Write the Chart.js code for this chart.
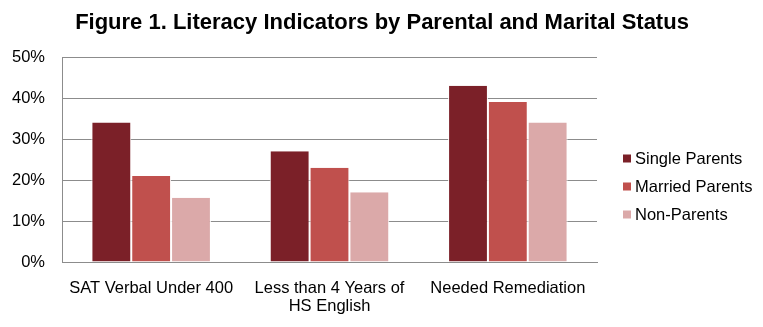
<!DOCTYPE html>
<html>
<head>
<meta charset="utf-8">
<script src="https://cdn.jsdelivr.net/npm/chart.js@4"></script>
<style>
  html, body { margin: 0; padding: 0; background: #fff; }
  #wrap { width: 763px; height: 327px; }
</style>
</head>
<body>
<div id="wrap"><canvas id="literacyChart" width="763" height="327"></canvas></div>
<script>
var categories = ["SAT Verbal Under 400", ["Less than 4 Years of", "HS English"], "Needed Remediation"];
var seriesNames = ["Single Parents", "Married Parents", "Non-Parents"];
var singleParents = [34, 27, 43];
var marriedParents = [21, 23, 39];
var nonParents = [15.7, 17, 34];
var seriesColors = ["#7B2028", "#C0504D", "#DBA9A9"];
var chartTitle = "Figure 1. Literacy Indicators by Parental and Marital Status";

var FONT = "'Liberation Sans', Arial, sans-serif";

// title and legend drawn by hand so they sit where the original has them
var titleAndLegend = {
  id: "titleAndLegend",
  afterDraw: function (chart) {
    var ctx = chart.ctx;
    ctx.save();
    ctx.fillStyle = "#000";
    ctx.font = "bold 22px " + FONT;
    ctx.textAlign = "center";
    ctx.textBaseline = "middle";
    ctx.fillText(chartTitle, 382, 23);

    ctx.textAlign = "left";
    ctx.font = "16.5px " + FONT;
    var x = 623;
    var y = 158;
    chart.data.datasets.forEach(function (ds, i) {
      var yy = y + i * 28;
      ctx.fillStyle = ds.backgroundColor;
      ctx.fillRect(x, yy - 3.5, 8, 8);
      ctx.fillStyle = "#000";
      ctx.fillText(ds.label, x + 12, yy + 1);
    });
    ctx.restore();
  },
};

var data = {
  labels: categories,
  datasets: [singleParents, marriedParents, nonParents].map(function (values, i) {
    return {
      label: seriesNames[i],
      data: values,
      backgroundColor: seriesColors[i],
      borderColor: "#ffffff",
      borderWidth: { left: 1, right: 1, top: 0, bottom: 0 },
      barPercentage: 1,
      categoryPercentage: 0.67,
    };
  }),
};

new Chart(document.getElementById("literacyChart"), {
  type: "bar",
  data: data,
  plugins: [titleAndLegend],
  options: {
    responsive: false,
    animation: false,
    layout: { padding: { left: 0, right: 166, top: 57, bottom: 0 } },
    plugins: {
      legend: { display: false },
      tooltip: { enabled: false },
      title: { display: false },
    },
    scales: {
      x: {
        grid: { display: false, drawTicks: false },
        border: { color: "#8c8c8c", width: 1 },
        afterFit: function (scale) { scale.height = 65; },
        ticks: {
          color: "#000",
          padding: 17,
          maxRotation: 0,
          autoSkip: false,
          font: { family: FONT, size: 16.5, lineHeight: 1.1 },
        },
      },
      y: {
        min: 0,
        max: 50,
        grid: { color: "#8c8c8c", drawTicks: false },
        border: { color: "#8c8c8c", width: 1 },
        afterFit: function (scale) { scale.width = 62; },
        ticks: {
          stepSize: 10,
          color: "#000",
          padding: 17,
          font: { family: FONT, size: 16.5 },
          callback: function (v) { return v + "%"; },
        },
      },
    },
  },
});
</script>
</body>
</html>
